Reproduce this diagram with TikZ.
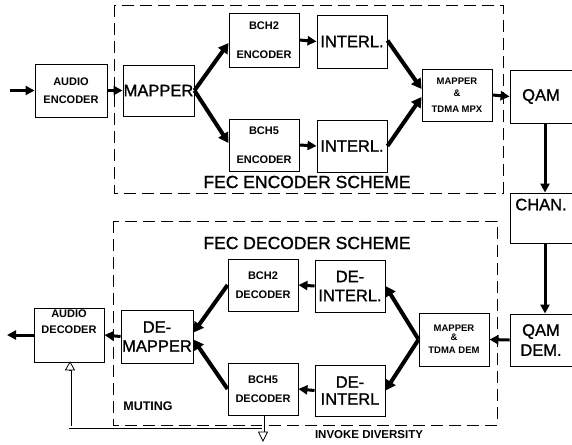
\documentclass[tikz,border=0pt]{standalone}
\usepackage{fontspec}
\setmainfont{Liberation Sans}
\newfontfamily\medsans[FakeBold=1.2]{Liberation Sans}
\usetikzlibrary{arrows.meta,calc}
\begin{document}
\begin{tikzpicture}[x=1pt,y=-1pt,
 box/.style={draw, line width=0.9pt, inner sep=0pt, align=center},
 big/.style={font=\medsans\fontsize{16.5}{19}\selectfont},
 title/.style={font=\medsans\fontsize{17.5}{20}\selectfont},
 small/.style={font=\bfseries\fontsize{11}{12.5}\selectfont},
 tiny/.style={font=\bfseries\fontsize{9.5}{11}\selectfont},
 flow/.style={line width=3pt, -{Triangle[length=9pt,width=9pt]}},
 diag/.style={line width=4pt, -{Triangle[length=10pt,width=11pt]}},
 scheme/.style={draw, dash pattern=on 12pt off 6pt, line width=0.8pt},
 dblout/.style={line width=3pt, line join=miter},
 dblin/.style={white, line width=1.4pt, line join=miter},
 opentip/.style={draw, fill=white, line width=0.8pt},
 lbl/.style={inner sep=0pt}]
\useasboundingbox (0,0) rectangle (572,444);

% dashed scheme frames
\draw[scheme] (114,5) rectangle (503,193);
\draw[scheme] (113,221) rectangle (497,425);
\node[lbl, title] (enctitle) at (307,182) {FEC ENCODER SCHEME};
\node[lbl, title] (dectitle) at (307,243) {FEC DECODER SCHEME};
\node[lbl, font=\bfseries\fontsize{12.5}{14}\selectfont] (muting) at (148,406) {MUTING};
\node[lbl, font=\bfseries\fontsize{11.5}{14}\selectfont] (invoke) at (369,435) {INVOKE DIVERSITY};

% encoder chain
\node[box, small, minimum width=72, minimum height=53] (aenc) at (71,90.5) {AUDIO\\[5pt]ENCODER};
\node[box, big, minimum width=71, minimum height=51] (map) at (158.5,90.5) {MAPPER};
\node[box, small, minimum width=70, minimum height=54] (bch2e) at (264,40) {BCH2\\[16pt]ENCODER};
\node[box, small, minimum width=70, minimum height=52] (bch5e) at (264,145) {BCH5\\[16pt]ENCODER};
\node[box, big, minimum width=70, minimum height=53] (int1) at (352,41.5) {INTERL.};
\node[box, big, minimum width=70, minimum height=52] (int2) at (352,146) {INTERL.};
\node[box, tiny, minimum width=70, minimum height=52] (mpx) at (457,95) {MAPPER\\[1pt]\&\\[5pt]TDMA MPX};
\node[box, big, minimum width=62, minimum height=53] (qam) at (541,96.5) {QAM};
\node[box, big, minimum width=62, minimum height=50] (chan) at (541,218) {CHAN.\\[8pt]};

% decoder chain
\node[box, big, minimum width=62, minimum height=52] (qamd) at (541,340) {QAM\\[1pt]DEM.};
\node[box, tiny, minimum width=70, minimum height=53] (tdem) at (454,339.5) {MAPPER\\[-2pt]\&\\[2pt]TDMA DEM};
\node[box, big, minimum width=70, minimum height=52] (dint1) at (350,286) {DE-\\INTERL.};
\node[box, big, minimum width=70, minimum height=51] (dint2) at (350,390.5) {DE-\\[-2pt]INTERL};
\node[box, small, minimum width=70, minimum height=52] (bch2d) at (263,285) {BCH2\\[7pt]DECODER};
\node[box, small, minimum width=70, minimum height=52] (bch5d) at (263,389) {BCH5\\[7pt]DECODER};
\node[box, big, minimum width=72, minimum height=53] (demap) at (157,336.5) {DE-\\MAPPER};
\node[box, small, minimum width=70, minimum height=54] (adec) at (69,335) {AUDIO\\[4pt]DECODER\\[14pt]};

% free ends
\coordinate (in) at (10,90.5);
\coordinate (out) at (7,335);

% encoder arrows
\draw[flow] (in) -- (aenc.west);
\draw[flow] (aenc.east) -- (map.west);
\draw[diag] (map.east) -- ($(bch2e.west)+(0,3)$);
\draw[diag] (map.east) -- ($(bch5e.west)+(0,-2)$);
\draw[flow] (bch2e.east) -- (int1.west);
\draw[flow] (bch5e.east) -- (int2.west);
\draw[diag] ($(int1.east)+(0,-1)$) -- ($(mpx.west)+(0,-6)$);
\draw[diag] (int2.east) -- ($(mpx.west)+(0,2)$);
\draw[flow] (mpx.east) -- (qam.west);
\draw[flow] (qam.south -| 545,0) -- (chan.north -| 545,0);
\draw[flow] (chan.south -| 545,0) -- (qamd.north -| 545,0);

% decoder arrows
\draw[flow] (qamd.west) -- (tdem.east);
\draw[diag] (tdem.west) -- (dint1.east);
\draw[diag] (tdem.west) -- (dint2.east);
\draw[flow] (dint1.west) -- (bch2d.west -| bch2d.east);
\draw[flow] (dint2.west) -- (bch5d.west -| bch5d.east);
\draw[diag] (bch2d.west) -- ($(demap.east)+(0,-4)$);
\draw[diag] (bch5d.west) -- ($(demap.east)+(0,3)$);
\draw[flow] (demap.west) -- (adec.east);
\draw[flow] (adec.west) -- (out);

% muting / diversity double lines
\coordinate (div) at (263,441);
\coordinate (jn) at (263,427);
\coordinate (cr) at (70,427);
\coordinate (mute) at (70,362);
\draw[dblout] (jn) -- (cr) -- ($(mute)+(0,8)$);
\draw[dblout] (bch5d.south) -- ($(div)+(0,-9)$);
\draw[dblin] (jn) -- (cr) -- ($(mute)+(0,8.5)$);
\draw[dblin] ($(bch5d.south)+(0,0.5)$) -- ($(div)+(0,-8.5)$);
\draw[opentip] ($(div)+(-4.5,-9)$) -- ($(div)+(4.5,-9)$) -- (div) -- cycle;
\draw[opentip] ($(mute)+(-4.5,8)$) -- ($(mute)+(4.5,8)$) -- (mute) -- cycle;
\end{tikzpicture}
\end{document}
